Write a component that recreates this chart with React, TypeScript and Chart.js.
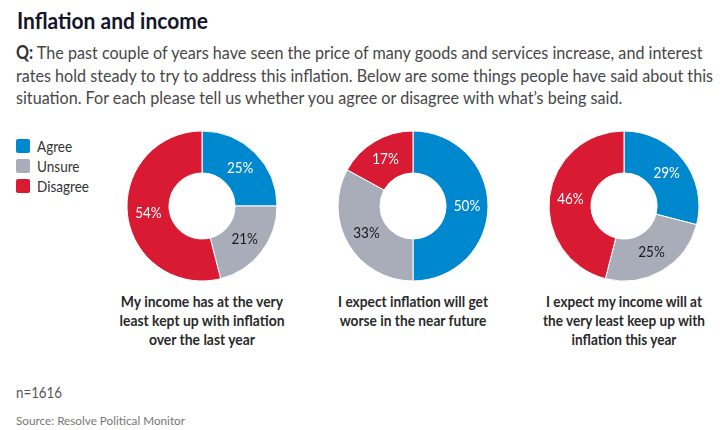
import React, { useEffect, useLayoutEffect, useRef } from "react";
import { Chart, registerables } from "chart.js";

Chart.register(...registerables);

const categories = ["Agree", "Unsure", "Disagree"];
const colors = ["#0088CE", "#A9ACB9", "#D91A33"];
const labelColors = ["#ffffff", "#1a1a1a", "#ffffff"];

const incomeKeptUpValues = [25, 21, 54];
const inflationWorseValues = [50, 33, 17];
const incomeKeepUpValues = [29, 25, 46];

const statementLabels = [
  ["My income has at the very", "least kept up with inflation", "over the last year"],
  ["I expect inflation will get", "worse in the near future"],
  ["I expect my income will at", "the very least keep up with", "inflation this year"],
];

const questionLines = [
  "The past couple of years have seen the price of many goods and services increase, and interest",
  "rates hold steady to try to address this inflation. Below are some things people have said about this",
  "situation. For each please tell us whether you agree or disagree with what’s being said.",
];

const FONT = 'Lato, "Open Sans", sans-serif';

const sliceLabelPlugin = {
  id: "sliceLabels",
  afterDatasetsDraw(chart: any) {
    const ctx = chart.ctx;
    const meta = chart.getDatasetMeta(0);
    const data = chart.data.datasets[0].data;
    ctx.save();
    ctx.font = `15px ${FONT}`;
    ctx.textAlign = "center";
    ctx.textBaseline = "middle";
    meta.data.forEach((arc: any, i: number) => {
      const p = arc.tooltipPosition();
      ctx.fillStyle = labelColors[i];
      ctx.save();
      ctx.translate(p.x, p.y);
      ctx.scale(0.9, 1);
      ctx.fillText(`${data[i]}%`, 0, 0);
      ctx.restore();
    });
    ctx.restore();
  },
};

function Donut({ values }: { values: number[] }) {
  const ref = useRef<HTMLCanvasElement>(null);
  useEffect(() => {
    if (!ref.current) return;
    const chart = new Chart(ref.current, {
      type: "doughnut",
      data: {
        labels: categories,
        datasets: [
          {
            data: values,
            backgroundColor: colors,
            borderColor: "#ffffff",
            borderWidth: 1,
            hoverOffset: 0,
          },
        ],
      },
      options: {
        responsive: false,
        animation: false,
        radius: 75,
        cutout: 35,
        layout: { padding: 0 },
        plugins: { legend: { display: false }, tooltip: { enabled: false } },
      } as any,
      plugins: [sliceLabelPlugin],
    });
    return () => chart.destroy();
  }, [values]);
  return <canvas ref={ref} width={160} height={160} style={{ width: 160, height: 160 }} />;
}

// Narrows a block of text horizontally so its widest line matches the reference width
function Fit({
  target,
  origin,
  style,
  children,
}: {
  target: number;
  origin: string;
  style: React.CSSProperties;
  children: React.ReactNode;
}) {
  const ref = useRef<HTMLDivElement>(null);
  useLayoutEffect(() => {
    const el = ref.current;
    if (!el) return;
    const apply = () => {
      el.style.transform = "none";
      let w = 0;
      el.querySelectorAll("span.ln").forEach((s) => {
        w = Math.max(w, (s as HTMLElement).getBoundingClientRect().width);
      });
      if (w > 0) el.style.transform = `scaleX(${target / w})`;
    };
    apply();
    const f = (document as any).fonts;
    if (f && f.ready) f.ready.then(apply);
  }, [target]);
  return (
    <div ref={ref} style={{ position: "absolute", transformOrigin: origin, ...style }}>
      {children}
    </div>
  );
}

const Ln = ({ children }: { children: React.ReactNode }) => (
  <div>
    <span className="ln" style={{ whiteSpace: "nowrap" }}>
      {children}
    </span>
  </div>
);

const donuts = [incomeKeptUpValues, inflationWorseValues, incomeKeepUpValues];
const centersX = [202, 413, 624];
const centerY = 206;
const labelTargets = [165, 150, 162];

export default function App() {
  return (
    <div
      style={{
        position: "absolute",
        left: 0,
        top: 0,
        width: 724,
        height: 430,
        background: "#fff",
        fontFamily: FONT,
        overflow: "hidden",
      }}
    >
      <Fit
        target={191}
        origin="left center"
        style={{ left: 17, top: 7, fontSize: 23, lineHeight: "26px", fontWeight: "bold", color: "#15152a" }}
      >
        <Ln>Inflation and income</Ln>
      </Fit>

      <Fit
        target={697}
        origin="left center"
        style={{ left: 16, top: 41, fontSize: 18, lineHeight: "22.5px", color: "#474747" }}
      >
        <Ln>
          <b style={{ color: "#333" }}>Q:</b> {questionLines[0]}
        </Ln>
        <Ln>{questionLines[1]}</Ln>
        <Ln>{questionLines[2]}</Ln>
      </Fit>

      {categories.map((c, i) => (
        <span
          key={c}
          style={{
            position: "absolute",
            left: 16,
            top: 139 + i * 20,
            width: 14,
            height: 14,
            borderRadius: 2,
            background: colors[i],
          }}
        />
      ))}
      <Fit
        target={52}
        origin="left center"
        style={{ left: 37, top: 136, fontSize: 15, lineHeight: "20px", color: "#333" }}
      >
        {categories.map((c) => (
          <Ln key={c}>{c}</Ln>
        ))}
      </Fit>

      {donuts.map((vals, i) => (
        <div
          key={i}
          style={{ position: "absolute", left: centersX[i] - 80, top: centerY - 80, width: 160, height: 160 }}
        >
          <Donut values={vals} />
        </div>
      ))}

      {statementLabels.map((lines, i) => (
        <Fit
          key={i}
          target={labelTargets[i]}
          origin="center center"
          style={{
            left: centersX[i] - 110,
            width: 220,
            top: 292,
            textAlign: "center",
            fontSize: 15,
            lineHeight: "19px",
            fontWeight: "bold",
            color: "#2a2a2a",
          }}
        >
          {lines.map((l) => (
            <Ln key={l}>{l}</Ln>
          ))}
        </Fit>
      ))}

      <Fit target={46} origin="left center" style={{ left: 16, top: 382, fontSize: 15, lineHeight: "20px", color: "#555" }}>
        <Ln>n=1616</Ln>
      </Fit>
      <Fit target={169} origin="left center" style={{ left: 16, top: 414, fontSize: 12, lineHeight: "14px", color: "#777" }}>
        <Ln>Source: Resolve Political Monitor</Ln>
      </Fit>
    </div>
  );
}
